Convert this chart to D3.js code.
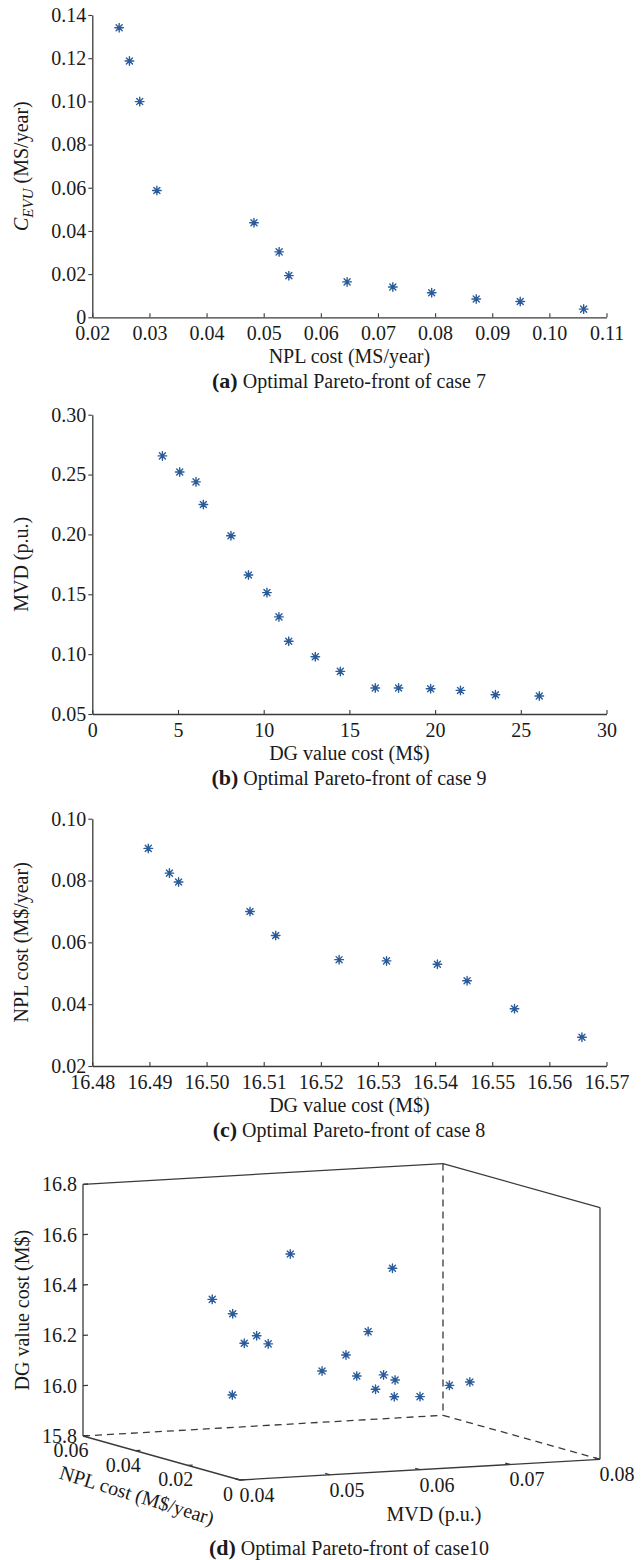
<!DOCTYPE html>
<html>
<head>
<meta charset="utf-8">
<script src="https://cdn.jsdelivr.net/npm/d3@7"></script>
<style>
  body { margin: 0; background: #fff; }
  svg { display: block; }
  text { font-family: "Liberation Serif", "Times New Roman", serif; fill: #1a1a1a; }
</style>
</head>
<body>
<svg id="fig" width="644" height="1560"></svg>
<script>
// ---- (a) Pareto front, case 7 ----
const nplCost7 = [0.0247, 0.0265, 0.0283, 0.0313, 0.0483, 0.0527, 0.0544, 0.0646, 0.0726, 0.0794, 0.0872, 0.0949, 0.1060];
const cevu7    = [0.1341, 0.1187, 0.0999, 0.0587, 0.0438, 0.0303, 0.0193, 0.0164, 0.0140, 0.0114, 0.0085, 0.0073, 0.0038];
const ticksAx  = [0.02, 0.03, 0.04, 0.05, 0.06, 0.07, 0.08, 0.09, 0.10, 0.11];
const ticksAy  = [0, 0.02, 0.04, 0.06, 0.08, 0.10, 0.12, 0.14];

// ---- (b) Pareto front, case 9 ----
const dgCost9 = [4.09, 5.10, 6.05, 6.48, 8.09, 9.11, 10.19, 10.89, 11.46, 13.01, 14.47, 16.51, 17.87, 19.74, 21.48, 23.52, 26.08];
const mvd9    = [0.2656, 0.2522, 0.2439, 0.2250, 0.1989, 0.1661, 0.1514, 0.1311, 0.1108, 0.0978, 0.0856, 0.0717, 0.0717, 0.0711, 0.0697, 0.0661, 0.0650];
const ticksBx = [0, 5, 10, 15, 20, 25, 30];
const ticksBy = [0.05, 0.10, 0.15, 0.20, 0.25, 0.30];

// ---- (c) Pareto front, case 8 ----
const dgCost8 = [16.4898, 16.4935, 16.4951, 16.5076, 16.5121, 16.5232, 16.5315, 16.5404, 16.5456, 16.5539, 16.5657];
const nplCost8 = [0.0904, 0.0824, 0.0795, 0.0700, 0.0622, 0.0544, 0.0540, 0.0529, 0.0476, 0.0385, 0.0293];
const ticksCx = [16.48, 16.49, 16.50, 16.51, 16.52, 16.53, 16.54, 16.55, 16.56, 16.57];
const ticksCy = [0.02, 0.04, 0.06, 0.08, 0.10];

// ---- (d) Pareto front, case 10 (three objectives) ----
const mvd10    = [0.0500, 0.0514, 0.0521, 0.0529, 0.0536, 0.0514, 0.0531, 0.0590, 0.0605, 0.0618, 0.0617, 0.0632, 0.0638, 0.0645, 0.0647, 0.0613, 0.0664, 0.0685, 0.0699];
const nplCost10 = [0.045, 0.042, 0.040, 0.038, 0.036, 0.020, 0.048, 0.034, 0.030, 0.026, 0.030, 0.028, 0.027, 0.025, 0.026, 0.015, 0.022, 0.018, 0.015];
const dgCost10 = [16.366, 16.315, 16.202, 16.236, 16.208, 16.616, 15.971, 16.095, 16.167, 16.269, 16.081, 16.031, 16.090, 16.074, 16.004, 16.554, 16.013, 16.065, 16.084];
const ticksDmvd = [0.04, 0.05, 0.06, 0.07, 0.08];
const ticksDnpl = [0, 0.02, 0.04, 0.06];
const ticksDdg  = [15.8, 16.0, 16.2, 16.4, 16.6, 16.8];

const svg = d3.select("#fig");
const AXIS = "#3a3a3a";
const MARK = "#2a5c9a";
const FS = 20;

// asterisk marker: plus and cross combined
function starPath(r) {
  const k = r * 0.7071;
  return `M${-r},0L${r},0M0,${-r}L0,${r}M${-k},${-k}L${k},${k}M${-k},${k}L${k},${-k}`;
}
const STAR = starPath(4.3);

function drawMarkers(g, pts) {
  g.selectAll("path.mk").data(pts).join("path")
    .attr("class", "mk")
    .attr("d", STAR)
    .attr("transform", d => `translate(${d[0]},${d[1]})`)
    .attr("fill", "none")
    .attr("stroke", MARK)
    .attr("stroke-width", 1.4)
    .attr("stroke-linecap", "round");
}

function styleAxis(g) {
  g.attr("font-family", null).attr("font-size", null);
  g.selectAll("path.domain").attr("stroke", AXIS).attr("stroke-width", 1.3);
  g.selectAll(".tick line").attr("stroke", AXIS).attr("stroke-width", 1.1);
  g.selectAll(".tick text").attr("font-size", FS).attr("fill", "#1a1a1a");
}

const X0 = 92.3, X1 = 606.5;

function panel2D(cfg) {
  const g = svg.append("g");
  const x = d3.scaleLinear().domain(cfg.xDomain).range([X0, X1]);
  const y = d3.scaleLinear().domain(cfg.yDomain).range([cfg.bottom, cfg.top]);

  g.append("g").attr("transform", `translate(0,${cfg.bottom})`)
    .call(d3.axisBottom(x).tickValues(cfg.xTicks).tickFormat(cfg.xFmt)
      .tickSizeInner(-4).tickSizeOuter(0).tickPadding(9))
    .call(styleAxis);

  g.append("g").attr("transform", `translate(${X0},0)`)
    .call(d3.axisLeft(y).tickValues(cfg.yTicks).tickFormat(cfg.yFmt)
      .tickSizeInner(4).tickSizeOuter(0).tickPadding(2))
    .call(styleAxis);

  const pts = cfg.xs.map((v, i) => [x(v), y(cfg.ys[i])]);
  drawMarkers(g, pts);

  // x title
  g.append("text").attr("x", (X0 + X1) / 2).attr("y", cfg.bottom + 46)
    .attr("text-anchor", "middle").attr("font-size", FS).text(cfg.xTitle);

  // y title
  const yt = g.append("text")
    .attr("transform", `translate(28,${(cfg.top + cfg.bottom) / 2}) rotate(-90)`)
    .attr("text-anchor", "middle").attr("font-size", FS);
  cfg.yTitle(yt);

  caption(g, cfg.bottom + 71, cfg.tag, cfg.caption);
}

function caption(g, yBase, tag, rest) {
  const t = g.append("text").attr("x", 349).attr("y", yBase)
    .attr("text-anchor", "middle").attr("font-size", FS);
  t.append("tspan").attr("font-weight", "bold").attr("font-size", 22).text(tag);
  t.append("tspan").text(rest);
}

const f2 = d3.format(".2f");

panel2D({
  xDomain: [0.02, 0.11], yDomain: [0, 0.14], top: 15, bottom: 317.3,
  xTicks: ticksAx, yTicks: ticksAy,
  xFmt: f2, yFmt: d => d === 0 ? "0" : f2(d),
  xs: nplCost7, ys: cevu7,
  xTitle: "NPL cost (MS/year)",
  yTitle: t => {
    t.append("tspan").attr("font-style", "italic").text("C");
    t.append("tspan").attr("font-style", "italic").attr("font-size", 15).attr("dy", 5).text("EVU");
    t.append("tspan").attr("dy", -5).text(" (MS/year)");
  },
  tag: "(a)", caption: " Optimal Pareto-front of case 7"
});

panel2D({
  xDomain: [0, 30], yDomain: [0.05, 0.30], top: 414.7, bottom: 714,
  xTicks: ticksBx, yTicks: ticksBy,
  xFmt: d3.format("d"), yFmt: f2,
  xs: dgCost9, ys: mvd9,
  xTitle: "DG value cost (M$)",
  yTitle: t => t.text("MVD (p.u.)"),
  tag: "(b)", caption: " Optimal Pareto-front of case 9"
});

panel2D({
  xDomain: [16.48, 16.57], yDomain: [0.02, 0.10], top: 818.7, bottom: 1066,
  xTicks: ticksCx, yTicks: ticksCy,
  xFmt: f2, yFmt: f2,
  xs: dgCost8, ys: nplCost8,
  xTitle: "DG value cost (M$)",
  yTitle: t => t.text("NPL cost (M$/year)"),
  tag: "(c)", caption: " Optimal Pareto-front of case 8"
});

// ---- (d) 3-D scatter with an orthographic box ----
(function () {
  const g = svg.append("g");
  const sM = d3.scaleLinear().domain([0.04, 0.08]).range([0, 1]);
  const sN = d3.scaleLinear().domain([0, 0.06]).range([0, 1]);
  const sD = d3.scaleLinear().domain([15.8, 16.8]).range([0, 1]);
  const O = [240, 1480], eM = [360, -20.7], eN = [-157, -44], eD = [0, -251.7];
  const P = (m, n, d) => {
    const u = sM(m), v = sN(n), w = sD(d);
    return [O[0] + eM[0] * u + eN[0] * v + eD[0] * w,
            O[1] + eM[1] * u + eN[1] * v + eD[1] * w];
  };
  const [m0, m1] = sM.domain(), [n0, n1] = sN.domain(), [d0, d1] = sD.domain();
  const line = d3.line();
  const edge = (a, b, dashed) => g.append("path").attr("d", line([a, b]))
    .attr("stroke", AXIS).attr("stroke-width", 1.3).attr("fill", "none")
    .attr("stroke-dasharray", dashed ? "7,5" : null);

  const A = P(m0, n1, d1), B = P(m0, n1, d0), C = P(m1, n1, d1), D = P(m1, n1, d0);
  const E = P(m1, n0, d1), F = P(m1, n0, d0), G = P(m0, n0, d0);
  edge(C, D, true); edge(B, D, true); edge(D, F, true);
  edge(A, B); edge(A, C); edge(C, E); edge(E, F); edge(B, G); edge(G, F);

  const norm = v => { const l = Math.hypot(v[0], v[1]); return [v[0] / l, v[1] / l]; };
  const tick = (p, dir, len) => edge(p, [p[0] + dir[0] * len, p[1] + dir[1] * len]);
  const uM = norm(eM), uN = norm(eN);

  // MVD axis
  ticksDmvd.forEach(m => {
    const p = P(m, n0, d0);
    tick(p, uN, 5);
    g.append("text").attr("x", p[0] + 17).attr("y", p[1] + 15)
      .attr("text-anchor", "middle").attr("dominant-baseline", "central")
      .attr("font-size", FS).text(f2(m));
  });
  // NPL axis
  ticksDnpl.forEach(n => {
    const p = P(m0, n, d0);
    tick(p, uM, 5);
    g.append("text").attr("x", p[0] - 12).attr("y", p[1] + 14)
      .attr("text-anchor", "middle").attr("dominant-baseline", "central")
      .attr("font-size", FS).text(n === 0 ? "0" : f2(n));
  });
  // DG axis
  ticksDdg.forEach(d => {
    const p = P(m0, n1, d);
    tick(p, uM, 5);
    g.append("text").attr("x", p[0] - 6).attr("y", p[1])
      .attr("text-anchor", "end").attr("dominant-baseline", "central")
      .attr("font-size", FS).text(d3.format(".1f")(d));
  });

  const pts = mvd10.map((m, i) => P(m, nplCost10[i], dgCost10[i]));
  drawMarkers(g, pts);

  g.append("text").attr("x", 434).attr("y", 1514)
    .attr("text-anchor", "middle").attr("dominant-baseline", "central")
    .attr("font-size", FS).text("MVD (p.u.)");
  g.append("text").attr("transform", "translate(137,1495) rotate(17)")
    .attr("text-anchor", "middle").attr("dominant-baseline", "central")
    .attr("font-size", FS).text("NPL cost (M$/year)");
  g.append("text").attr("transform", `translate(29,${(A[1] + B[1]) / 2}) rotate(-90)`)
    .attr("text-anchor", "middle").attr("font-size", FS).text("DG value cost (M$)");

  caption(g, 1555, "(d)", " Optimal Pareto-front of case10");
})();
</script>
</body>
</html>
